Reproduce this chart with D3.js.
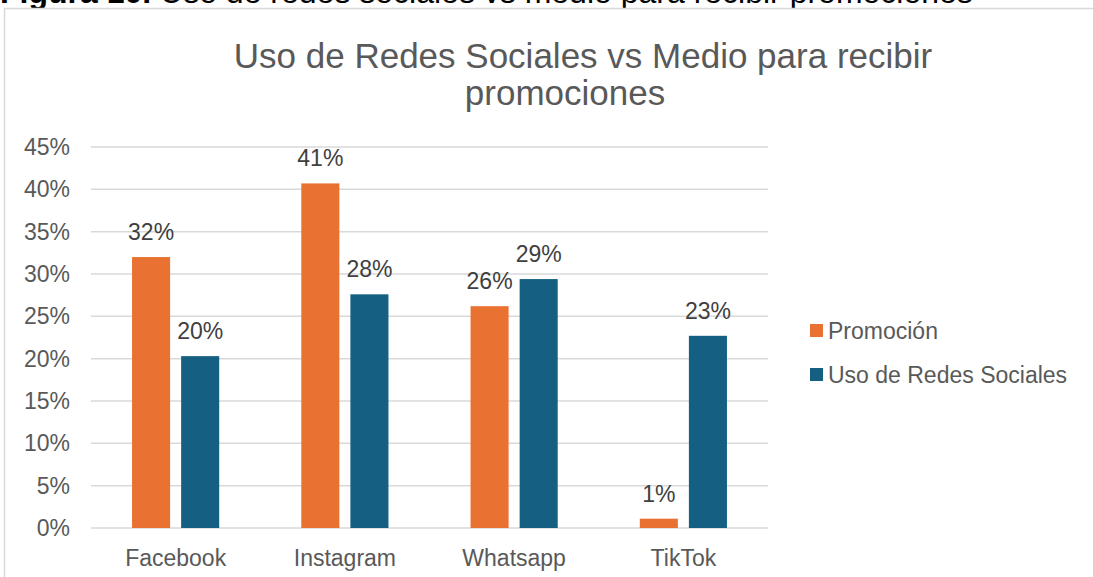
<!DOCTYPE html>
<html>
<head>
<meta charset="utf-8">
<script src="https://cdn.jsdelivr.net/npm/d3@7"></script>
<style>
  body { margin: 0; background: #fff; }
  svg { display: block; font-family: Arial, "Liberation Sans", sans-serif; }
</style>
</head>
<body>
<svg id="chart" width="1093" height="577"></svg>
<script>
// data
var categories = ["Facebook", "Instagram", "Whatsapp", "TikTok"];
var seriesNames = ["Promoción", "Uso de Redes Sociales"];
var promocion = [0.320, 0.407, 0.262, 0.011];
var usoRedes = [0.203, 0.276, 0.294, 0.227];
var yTicks = [0, 0.05, 0.10, 0.15, 0.20, 0.25, 0.30, 0.35, 0.40, 0.45];
var colors = ["#E97132", "#156082"];

var svg = d3.select("#chart");

// caption of the document, mostly cut off at the top
var cap = svg.append("text")
    .attr("x", 0)
    .attr("y", 3)
    .style("font-size", "32px")
    .style("fill", "#000");
cap.append("tspan").style("font-weight", "bold").text("Figura 10.");
cap.append("tspan").text(" Uso de redes sociales vs medio para recibir promociones");

// chart frame
svg.append("rect")
    .attr("x", 4.5).attr("y", 8.5)
    .attr("width", 1200).attr("height", 700)
    .attr("fill", "#fff")
    .attr("stroke", "#d9d9d9")
    .attr("stroke-width", 1.5);

// title
svg.append("text")
    .attr("x", 583).attr("y", 68)
    .attr("text-anchor", "middle")
    .style("font-size", "35px")
    .style("fill", "#595959")
    .text("Uso de Redes Sociales vs Medio para recibir");
svg.append("text")
    .attr("x", 565).attr("y", 105)
    .attr("text-anchor", "middle")
    .style("font-size", "35px")
    .style("fill", "#595959")
    .text("promociones");

var plotLeft = 91, plotRight = 768, plotTop = 147, plotBottom = 528;

var y = d3.scaleLinear().domain([0, 0.45]).range([plotBottom, plotTop]);

var x0 = d3.scaleBand()
    .domain(categories)
    .range([plotLeft, plotRight])
    .paddingInner(0.485)
    .paddingOuter(0.2425);

var x1 = d3.scaleBand()
    .domain(seriesNames)
    .range([0, x0.bandwidth()])
    .paddingInner(0.2245);

// gridlines
svg.append("g").selectAll("line")
    .data(yTicks)
    .enter().append("line")
    .attr("x1", plotLeft).attr("x2", plotRight)
    .attr("y1", function(d) { return y(d); })
    .attr("y2", function(d) { return y(d); })
    .attr("stroke", "#d9d9d9")
    .attr("stroke-width", 1.5);

// y axis labels
var yAxis = svg.append("g")
    .attr("transform", "translate(" + (plotLeft - 21) + ",0)")
    .call(d3.axisLeft(y).tickValues(yTicks).tickFormat(d3.format(".0%")).tickSize(0).tickPadding(0));
yAxis.select(".domain").remove();
yAxis.selectAll("text")
    .style("font-size", "23px")
    .style("fill", "#595959")
    .style("font-family", "Arial, 'Liberation Sans', sans-serif");

// x axis labels
var xAxis = svg.append("g")
    .attr("transform", "translate(0," + plotBottom + ")")
    .call(d3.axisBottom(x0).tickSize(0).tickPadding(22));
xAxis.select(".domain").remove();
xAxis.selectAll("text")
    .style("font-size", "23px")
    .style("fill", "#595959")
    .style("font-family", "Arial, 'Liberation Sans', sans-serif");

// bars
var rows = categories.map(function(c, i) {
    return {cat: c, vals: [
        {name: seriesNames[0], v: promocion[i], color: colors[0]},
        {name: seriesNames[1], v: usoRedes[i], color: colors[1]}
    ]};
});

var groups = svg.append("g").selectAll("g")
    .data(rows)
    .enter().append("g")
    .attr("transform", function(d) { return "translate(" + x0(d.cat) + ",0)"; });

groups.selectAll("rect")
    .data(function(d) { return d.vals; })
    .enter().append("rect")
    .attr("x", function(d) { return x1(d.name); })
    .attr("y", function(d) { return y(d.v); })
    .attr("width", x1.bandwidth())
    .attr("height", function(d) { return y(0) - y(d.v); })
    .attr("fill", function(d) { return d.color; });

groups.selectAll("text")
    .data(function(d) { return d.vals; })
    .enter().append("text")
    .attr("x", function(d) { return x1(d.name) + x1.bandwidth() / 2; })
    .attr("y", function(d) { return y(d.v) - 17; })
    .attr("text-anchor", "middle")
    .style("font-size", "23px")
    .style("fill", "#404040")
    .text(function(d) { return d3.format(".0%")(d.v); });

// legend
var legend = svg.append("g").selectAll("g")
    .data(seriesNames)
    .enter().append("g")
    .attr("transform", function(d, i) { return "translate(810," + (324 + i * 44) + ")"; });
legend.append("rect")
    .attr("width", 13).attr("height", 13)
    .attr("fill", function(d, i) { return colors[i]; });
legend.append("text")
    .attr("x", 18).attr("y", 15)
    .style("font-size", "23px")
    .style("fill", "#595959")
    .text(function(d) { return d; });
</script>
</body>
</html>
